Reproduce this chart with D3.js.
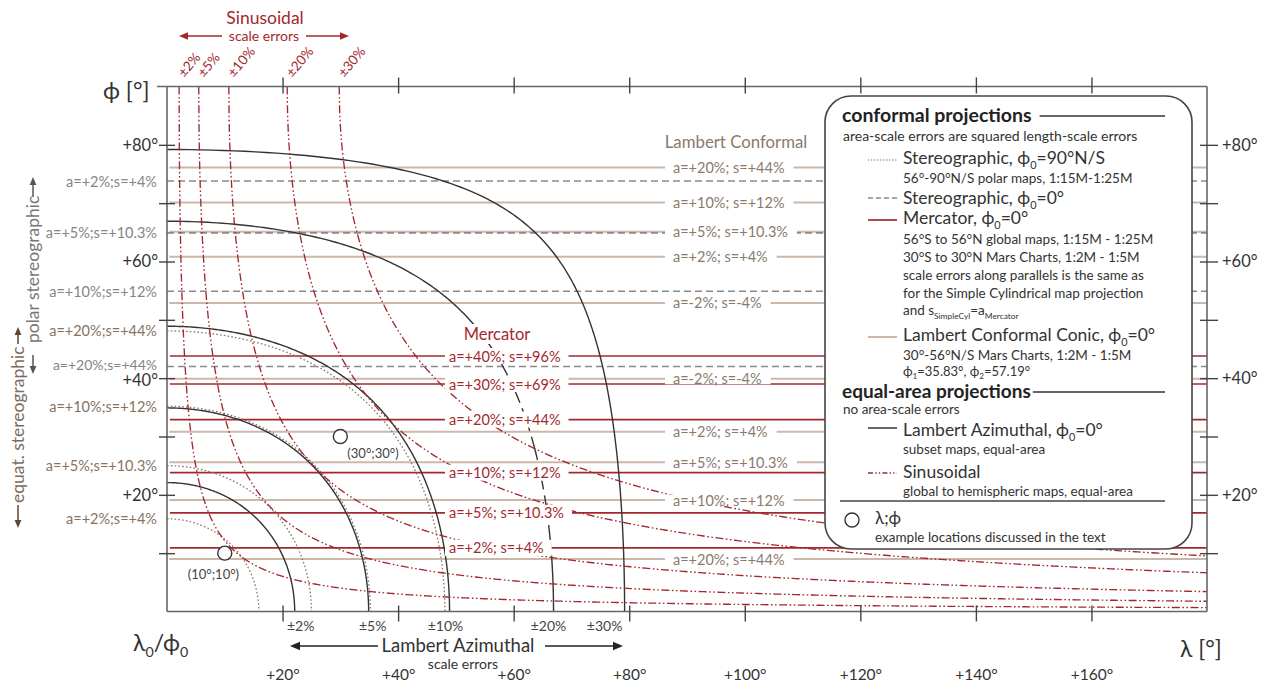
<!DOCTYPE html>
<html>
<head>
<meta charset="utf-8">
<script src="https://cdn.jsdelivr.net/npm/d3@7"></script>
<style>
  body { margin: 0; background: #fff; }
  svg { display: block; font-family: Lato, "Open Sans", "Noto Sans", sans-serif; }
</style>
</head>
<body>
<svg id="chart" width="1266" height="689"></svg>
<script>
// ---------- data ----------
const lonTicks = [20, 40, 60, 80, 100, 120, 140, 160];
const lonTickLabels = ["+20°", "+40°", "+60°", "+80°", "+100°", "+120°", "+140°", "+160°"];
const latTicks = [10, 20, 30, 40, 50, 60, 70, 80];
const latLabelValues = [20, 40, 60, 80];
const latTickLabels = ["+20°", "+40°", "+60°", "+80°"];

// Lambert azimuthal (phi0 = 0°): scale-error contours, angular radius from (0°,0°) in degrees
const lambertLevels = ["±2%", "±5%", "±10%", "±20%", "±30%"];
const lambertRadius = [22.1, 34.9, 48.9, 66.9, 79.2];

// equatorial stereographic: contours, angular radius in degrees
const equatStereoLabels = ["a=+2%;s=+4%", "a=+5%;s=+10.3%", "a=+10%;s=+12%", "a=+20%;s=+44%"];
const equatStereoRadius = [15.9, 25.0, 35.2, 48.1];

// polar stereographic: parallels of equal scale error
const polarStereoLabels = ["a=+2%;s=+4%", "a=+5%;s=+10.3%", "a=+10%;s=+12%", "a=+20%;s=+44%"];
const polarStereoLat = [73.8, 64.9, 54.9, 42.0];

// Mercator: parallels of equal scale error
const mercatorLabels = ["a=+2%; s=+4%", "a=+5%; s=+10.3%", "a=+10%; s=+12%", "a=+20%; s=+44%", "a=+30%; s=+69%", "a=+40%; s=+96%"];
const mercatorLat = [10.9, 16.9, 23.8, 32.9, 39.0, 43.8];

// Lambert conformal conic: parallels of equal scale error
const lccLabels = ["a=+20%; s=+44%", "a=+10%; s=+12%", "a=+5%; s=+10.3%", "a=+2%; s=+4%", "a=-2%; s=-4%",
                   "a=-2%; s=-4%", "a=+2%; s=+4%", "a=+5%; s=+10.3%", "a=+10%; s=+12%", "a=+20%; s=+44%"];
const lccLat = [76.1, 70.1, 65.1, 60.8, 52.9, 39.9, 30.8, 25.6, 19.1, 9.0];

// sinusoidal: contours lambda*sin(phi) = const, given by the longitude reached at the pole
const sinusLevels = ["±2%", "±5%", "±10%", "±20%", "±30%"];
const sinusPoleLon = [2.1, 5.5, 10.7, 20.8, 29.8];

// example locations
const exampleLon = [10, 30];
const exampleLat = [10, 30];
const exampleLabels = ["(10°;10°)", "(30°;30°)"];

// ---------- setup ----------
const svg = d3.select("#chart");
const x = d3.scaleLinear().domain([0, 180]).range([167, 1207]);
const y = d3.scaleLinear().domain([0, 90]).range([611.5, 86.5]);
const rad = Math.PI / 180;

const RED = "#a3282e";
const TAN = "#cbb8aa";
const TANTXT = "#8a7a6c";
const GRAYDASH = "#8a8a8a";
const DOT = "#86766a";
const INK = "#333";

const line = d3.line().x(d => x(d[0])).y(d => y(d[1]));

svg.append("defs").append("clipPath").attr("id", "plotClip")
  .append("rect").attr("x", x(0)).attr("y", y(90)).attr("width", x(180) - x(0)).attr("height", y(0) - y(90));

const plot = svg.append("g").attr("clip-path", "url(#plotClip)");

// points of a small circle of angular radius c around (0°,0°)
function smallCircle(c) {
  const pts = [];
  for (let i = 0; i <= 240; i++) {
    const th = (i / 240) * 90 * rad;
    const phi = Math.asin(Math.sin(c * rad) * Math.cos(th)) / rad;
    const lam = Math.atan2(Math.sin(th) * Math.sin(c * rad), Math.cos(c * rad)) / rad;
    pts.push([lam, phi]);
  }
  return pts;
}

// points of lambda * sin(phi) = k
function sinusContour(k) {
  const pts = [[k, 90]];
  const n = 600;
  for (let i = 1; i <= n; i++) {
    const lam = k * Math.pow(180 / k, i / n);
    pts.push([lam, Math.asin(Math.min(1, k / lam)) / rad]);
  }
  return pts;
}

// ---------- horizontal scale-error parallels ----------
plot.append("g").selectAll("line").data(lccLat).join("line")
  .attr("x1", x(0.4)).attr("x2", x(180)).attr("y1", d => y(d)).attr("y2", d => y(d))
  .attr("stroke", TAN).attr("stroke-width", 2);

plot.append("g").selectAll("line").data(polarStereoLat).join("line")
  .attr("x1", x(0)).attr("x2", x(180)).attr("y1", d => y(d)).attr("y2", d => y(d))
  .attr("stroke", GRAYDASH).attr("stroke-width", 1.6).attr("stroke-dasharray", "7,4");

plot.append("g").selectAll("line").data(mercatorLat).join("line")
  .attr("x1", x(0.5)).attr("x2", x(180)).attr("y1", d => y(d)).attr("y2", d => y(d))
  .attr("stroke", RED).attr("stroke-width", 1.6);

// ---------- equatorial stereographic contours ----------
plot.append("g").selectAll("path").data(equatStereoRadius).join("path")
  .attr("d", d => line(smallCircle(d)))
  .attr("fill", "none").attr("stroke", DOT).attr("stroke-width", 1.3).attr("stroke-dasharray", "1.6,2.2");

// ---------- Lambert azimuthal contours ----------
const lamG = plot.append("g").attr("fill", "none").attr("stroke", INK).attr("stroke-width", 1.4);
lambertRadius.forEach((c, i) => {
  const pts = smallCircle(c);
  if (lambertLevels[i] === "±20%") {
    // middle stretch of this contour is drawn long-dashed
    const upper = pts.filter(p => p[1] >= 44);
    const mid = pts.filter(p => p[1] <= 44.3 && p[1] >= 9.3);
    const lower = pts.filter(p => p[1] <= 9.6);
    lamG.append("path").attr("d", line(upper));
    lamG.append("path").attr("d", line(mid)).attr("stroke-dasharray", "24,6");
    lamG.append("path").attr("d", line(lower));
  } else {
    lamG.append("path").attr("d", line(pts));
  }
});

// ---------- sinusoidal contours ----------
plot.append("g").selectAll("path").data(sinusPoleLon).join("path")
  .attr("d", d => line(sinusContour(d)))
  .attr("fill", "none").attr("stroke", RED).attr("stroke-width", 1.35)
  .attr("stroke-dasharray", "8,2.5,1.6,2.5,1.6,2.5");

// ---------- labels with white knock-out ----------
const labG = svg.append("g");
function haloLabel(txt, tx, ty, opts) {
  const g = labG.append("g");
  const t = g.append("text").attr("x", tx).attr("y", ty)
    .attr("font-size", opts.size).attr("fill", opts.color)
    .attr("text-anchor", opts.anchor || "start").attr("dominant-baseline", "central")
    .text(txt);
  const w = t.node().getComputedTextLength();
  const x0 = opts.anchor === "middle" ? tx - w / 2 : tx;
  g.insert("rect", "text")
    .attr("x", x0 - opts.padL).attr("y", ty - opts.h / 2)
    .attr("width", w + opts.padL + opts.padR).attr("height", opts.h).attr("fill", "#fff");
}

mercatorLat.forEach((d, i) =>
  haloLabel(mercatorLabels[i], 449, y(d), { size: 14.5, color: RED, padL: 4, padR: 8, h: 16 }));
lccLat.forEach((d, i) =>
  haloLabel(lccLabels[i], 673, y(d), { size: 14.5, color: TANTXT, padL: 8, padR: 9, h: 11 }));
haloLabel("Mercator", 497, 334, { size: 16.5, color: RED, anchor: "middle", padL: 4, padR: 4, h: 20 });
haloLabel("Lambert Conformal", 736, 141, { size: 16.8, color: TANTXT, anchor: "middle", padL: 4, padR: 4, h: 18 });

// example locations
const exG = svg.append("g");
exG.selectAll("circle").data(exampleLon).join("circle")
  .attr("cx", d => x(d)).attr("cy", (d, i) => y(exampleLat[i])).attr("r", 7)
  .attr("fill", "#fff").attr("stroke", INK).attr("stroke-width", 1.4);
exG.append("text").attr("x", x(exampleLon[0]) - 37).attr("y", y(exampleLat[0]) + 26)
  .attr("font-size", 13).attr("fill", "#444").text(exampleLabels[0]);
exG.append("text").attr("x", x(exampleLon[1]) + 7).attr("y", y(exampleLat[1]) + 21)
  .attr("font-size", 13).attr("fill", "#444").text(exampleLabels[1]);

// ---------- frame and axes ----------
const frame = svg.append("g").attr("stroke", "#666").attr("stroke-width", 1.6);
frame.append("line").attr("x1", 157).attr("x2", x(180)).attr("y1", y(90)).attr("y2", y(90));
frame.append("line").attr("x1", x(0)).attr("x2", x(180)).attr("y1", y(0)).attr("y2", y(0));
frame.append("line").attr("x1", x(0)).attr("x2", x(0)).attr("y1", y(90)).attr("y2", y(0));
frame.append("line").attr("x1", x(180)).attr("x2", x(180)).attr("y1", y(90)).attr("y2", y(0));

function styleTicks(g) {
  g.select(".domain").remove();
  g.selectAll(".tick line").attr("stroke", "#444").attr("stroke-width", 1.4);
}
function styleLabels(size) {
  return g => {
    g.select(".domain").remove();
    g.selectAll("text").attr("font-size", size).attr("fill", INK)
      .attr("font-family", "Lato, 'Open Sans', sans-serif");
  };
}
// bottom ticks crossing the axis
svg.append("g").attr("transform", `translate(0,${y(0) - 6})`)
  .call(d3.axisBottom(x).tickValues(lonTicks).tickSize(16).tickFormat(""))
  .call(styleTicks);
// top ticks crossing the axis
svg.append("g").attr("transform", `translate(0,${y(90) + 7})`)
  .call(d3.axisTop(x).tickValues(lonTicks).tickSize(16).tickFormat(""))
  .call(styleTicks);
// bottom longitude labels
svg.append("g").attr("transform", "translate(0,675)")
  .call(d3.axisBottom(x).tickValues(lonTicks).tickSize(0).tickPadding(0)
    .tickFormat((d, i) => lonTickLabels[i]))
  .call(styleLabels(15.5))
  .call(g => g.selectAll("text").attr("dy", "0.35em"));
// left ticks
svg.append("g").attr("transform", `translate(${x(0) + 8},0)`)
  .call(d3.axisLeft(y).tickValues(latTicks).tickSize(16).tickFormat(""))
  .call(styleTicks);
svg.append("g").attr("transform", "translate(158,0)")
  .call(d3.axisLeft(y).tickValues(latLabelValues).tickSize(0).tickPadding(0)
    .tickFormat((d, i) => latTickLabels[i]))
  .call(styleLabels(16.5))
  .call(g => g.selectAll("text").attr("dy", (d) => d === 40 ? "0.45em" : "0.32em"));
// right ticks
svg.append("g").attr("transform", `translate(${x(180) - 7},0)`)
  .call(d3.axisRight(y).tickValues(latTicks).tickSize(18).tickFormat(""))
  .call(styleTicks);
svg.append("g").attr("transform", `translate(${x(180) + 15},0)`)
  .call(d3.axisRight(y).tickValues(latLabelValues).tickSize(0).tickPadding(0)
    .tickFormat((d, i) => latTickLabels[i]))
  .call(styleLabels(16.5));

// ---------- rich text helper (subscripts) ----------
function rich(parent, tx, ty, parts, size, color, weight, subShift) {
  const t = parent.append("text").attr("x", tx).attr("y", ty)
    .attr("font-size", size).attr("fill", color || INK).attr("font-weight", weight || "normal");
  let shifted = 0;
  parts.forEach(p => {
    const isSub = Array.isArray(p);
    const s = isSub ? p[0] : p;
    const sp = t.append("tspan").text(s);
    if (isSub) {
      const dy = size * (subShift || 0.28);
      sp.attr("font-size", size * 0.62).attr("dy", dy - shifted);
      shifted = dy;
    } else if (shifted) {
      sp.attr("dy", -shifted);
      shifted = 0;
    }
  });
  return t;
}

// axis titles
rich(svg, 103, 99, ["ϕ [°]"], 23, INK);
rich(svg, 133, 651, ["λ", ["0"], "/ϕ", ["0"]], 23, INK);
rich(svg, 1180, 657, ["λ [°]"], 23, INK);

// ---------- arrows ----------
function arrow(g, x1, y1, x2, y2, color, head) {
  const h = head || 8;
  const a = Math.atan2(y2 - y1, x2 - x1);
  g.append("line").attr("x1", x1).attr("y1", y1)
    .attr("x2", x2 - Math.cos(a) * h * 0.8).attr("y2", y2 - Math.sin(a) * h * 0.8)
    .attr("stroke", color).attr("stroke-width", 1.5);
  const w = h * 0.42;
  const bx = x2 - Math.cos(a) * h, by = y2 - Math.sin(a) * h;
  g.append("path")
    .attr("d", `M${x2},${y2}L${bx - Math.sin(a) * w},${by + Math.cos(a) * w}L${bx + Math.sin(a) * w},${by - Math.cos(a) * w}Z`)
    .attr("fill", color);
}

// Sinusoidal header + rotated level labels
const topG = svg.append("g");
topG.append("text").attr("x", 265).attr("y", 24).attr("text-anchor", "middle")
  .attr("font-size", 17.5).attr("fill", RED).text("Sinusoidal");
topG.append("text").attr("x", 264).attr("y", 41).attr("text-anchor", "middle")
  .attr("font-size", 14).attr("fill", RED).text("scale errors");
arrow(topG, 222, 36, 179, 36, RED, 9);
arrow(topG, 306, 36, 349, 36, RED, 9);
sinusPoleLon.forEach((d, i) => {
  topG.append("text").attr("transform", `translate(${x(d) + 5},78) rotate(-50)`)
    .attr("font-size", 13.5).attr("fill", RED).text(sinusLevels[i]);
});

// Lambert azimuthal bottom labels
const lamLabelShift = { "±2%": 6, "±5%": 4, "±10%": -4, "±20%": -5, "±30%": -20 };
const botG = svg.append("g");
lambertRadius.forEach((c, i) => {
  botG.append("text").attr("x", x(c) + lamLabelShift[lambertLevels[i]]).attr("y", 625)
    .attr("dominant-baseline", "central").attr("text-anchor", "middle")
    .attr("font-size", 14).attr("fill", "#444").text(lambertLevels[i]);
});
botG.append("text").attr("x", 458).attr("y", 645).attr("dominant-baseline", "central")
  .attr("text-anchor", "middle").attr("font-size", 18.5).attr("fill", INK).text("Lambert Azimuthal");
botG.append("text").attr("x", 463).attr("y", 663).attr("dominant-baseline", "central")
  .attr("text-anchor", "middle").attr("font-size", 14).attr("fill", INK).text("scale errors");
arrow(botG, 378, 646, 290, 646, "#222", 10);
arrow(botG, 545, 646, 623, 646, "#222", 10);

// left-side stereographic labels
const leftG = svg.append("g");
equatStereoRadius.forEach((c, i) => {
  leftG.append("text").attr("x", 157).attr("y", y(c)).attr("text-anchor", "end")
    .attr("dominant-baseline", "central").attr("font-size", 14.5).attr("fill", "#86725f")
    .text(equatStereoLabels[i]);
});
polarStereoLat.forEach((d, i) => {
  leftG.append("text").attr("x", 157).attr("y", y(d) - (i === 3 ? 2 : 0)).attr("text-anchor", "end")
    .attr("dominant-baseline", "central").attr("font-size", i === 3 ? 14 : 14.5).attr("fill", "#858585")
    .text(polarStereoLabels[i]);
});
leftG.append("text").attr("transform", "translate(39,343) rotate(-90)")
  .attr("font-size", 17.5).attr("fill", "#777").text("polar stereographic");
arrow(leftG, 33, 197, 33, 177, "#555", 8);
arrow(leftG, 33, 355, 33, 374, "#555", 8);
leftG.append("text").attr("transform", "translate(24,503) rotate(-90)")
  .attr("font-size", 17.5).attr("fill", "#7d6b5c").text("equat. stereographic");
arrow(leftG, 18, 344, 18, 327, "#5e4535", 8);
arrow(leftG, 18, 505, 18, 528, "#5e4535", 8);

// ---------- legend ----------
const lg = svg.append("g");
lg.append("rect").attr("x", 825).attr("y", 96).attr("width", 367).attr("height", 453)
  .attr("rx", 26).attr("ry", 26).attr("fill", "#fff").attr("stroke", "#444").attr("stroke-width", 1.6);

const h1 = lg.append("text").attr("x", 842).attr("y", 122).attr("font-size", 19.5)
  .attr("font-weight", "bold").attr("fill", "#222").text("conformal projections");
lg.append("line").attr("x1", 842 + h1.node().getComputedTextLength() + 8).attr("x2", 1165)
  .attr("y1", 116).attr("y2", 116).attr("stroke", "#333").attr("stroke-width", 1.3);
lg.append("text").attr("x", 843).attr("y", 141).attr("font-size", 14).attr("fill", INK)
  .text("area-scale errors are squared length-scale errors");

function sample(yy, color, dash, width) {
  lg.append("line").attr("x1", 868).attr("x2", 897).attr("y1", yy).attr("y2", yy)
    .attr("stroke", color).attr("stroke-width", width || 1.5).attr("stroke-dasharray", dash || null);
}
const SUB = 13.5;
sample(160, "#777", "1.4,1.6", 1.2);
rich(lg, 903, 164, ["Stereographic, ϕ", ["0"], "=90°N/S"], 17.5, INK);
lg.append("text").attr("x", 903).attr("y", 182.5).attr("font-size", SUB).attr("fill", INK)
  .text("56°-90°N/S polar maps, 1:15M-1:25M");
sample(198, GRAYDASH, "5,3", 1.5);
rich(lg, 903, 204, ["Stereographic, ϕ", ["0"], "=0°"], 17.5, INK);
sample(220, RED, null, 1.7);
rich(lg, 903, 224, ["Mercator, ϕ", ["0"], "=0°"], 17.5, INK);
["56°S to 56°N global maps, 1:15M - 1:25M",
 "30°S to 30°N Mars Charts, 1:2M - 1:5M",
 "scale errors along parallels is the same as",
 "for the Simple Cylindrical map projection"].forEach((s, i) =>
  lg.append("text").attr("x", 903).attr("y", 243.5 + i * 18).attr("font-size", SUB).attr("fill", INK).text(s));
rich(lg, 903, 315, ["and s", ["SimpleCyl"], "=a", ["Mercator"]], SUB, INK);
sample(337, TAN, null, 2);
rich(lg, 903, 341, ["Lambert Conformal Conic, ϕ", ["0"], "=0°"], 17.5, INK);
lg.append("text").attr("x", 903).attr("y", 360).attr("font-size", SUB).attr("fill", INK)
  .text("30°-56°N/S Mars Charts, 1:2M - 1:5M");
rich(lg, 903, 376, ["ϕ", ["1"], "=35.83°, ϕ", ["2"], "=57.19°"], 13, INK, "normal", 0.2);

const h2 = lg.append("text").attr("x", 842).attr("y", 398).attr("font-size", 19)
  .attr("font-weight", "bold").attr("fill", "#222").text("equal-area projections");
lg.append("line").attr("x1", 842 + h2.node().getComputedTextLength() + 2).attr("x2", 1165)
  .attr("y1", 392).attr("y2", 392).attr("stroke", "#333").attr("stroke-width", 1.3);
lg.append("text").attr("x", 843).attr("y", 414).attr("font-size", 13.5).attr("fill", INK)
  .text("no area-scale errors");
sample(428, INK, null, 1.5);
rich(lg, 903, 436, ["Lambert Azimuthal, ϕ", ["0"], "=0°"], 17.5, INK);
lg.append("text").attr("x", 903).attr("y", 454).attr("font-size", SUB).attr("fill", INK)
  .text("subset maps, equal-area");
sample(473, RED, "5,2.2,1.4,2.2,1.4,2.2", 1.4);
lg.append("text").attr("x", 903).attr("y", 478).attr("font-size", 17.5).attr("fill", INK).text("Sinusoidal");
lg.append("text").attr("x", 903).attr("y", 495.5).attr("font-size", SUB).attr("fill", INK)
  .text("global to hemispheric maps, equal-area");
lg.append("line").attr("x1", 840).attr("x2", 1165).attr("y1", 501).attr("y2", 501)
  .attr("stroke", "#444").attr("stroke-width", 1.6);
lg.append("circle").attr("cx", 852).attr("cy", 520).attr("r", 7)
  .attr("fill", "#fff").attr("stroke", INK).attr("stroke-width", 1.4);
lg.append("text").attr("x", 875).attr("y", 524).attr("font-size", 17).attr("fill", INK).text("λ;ϕ");
lg.append("text").attr("x", 875).attr("y", 541.5).attr("font-size", SUB).attr("fill", INK)
  .text("example locations discussed in the text");
</script>
</body>
</html>
